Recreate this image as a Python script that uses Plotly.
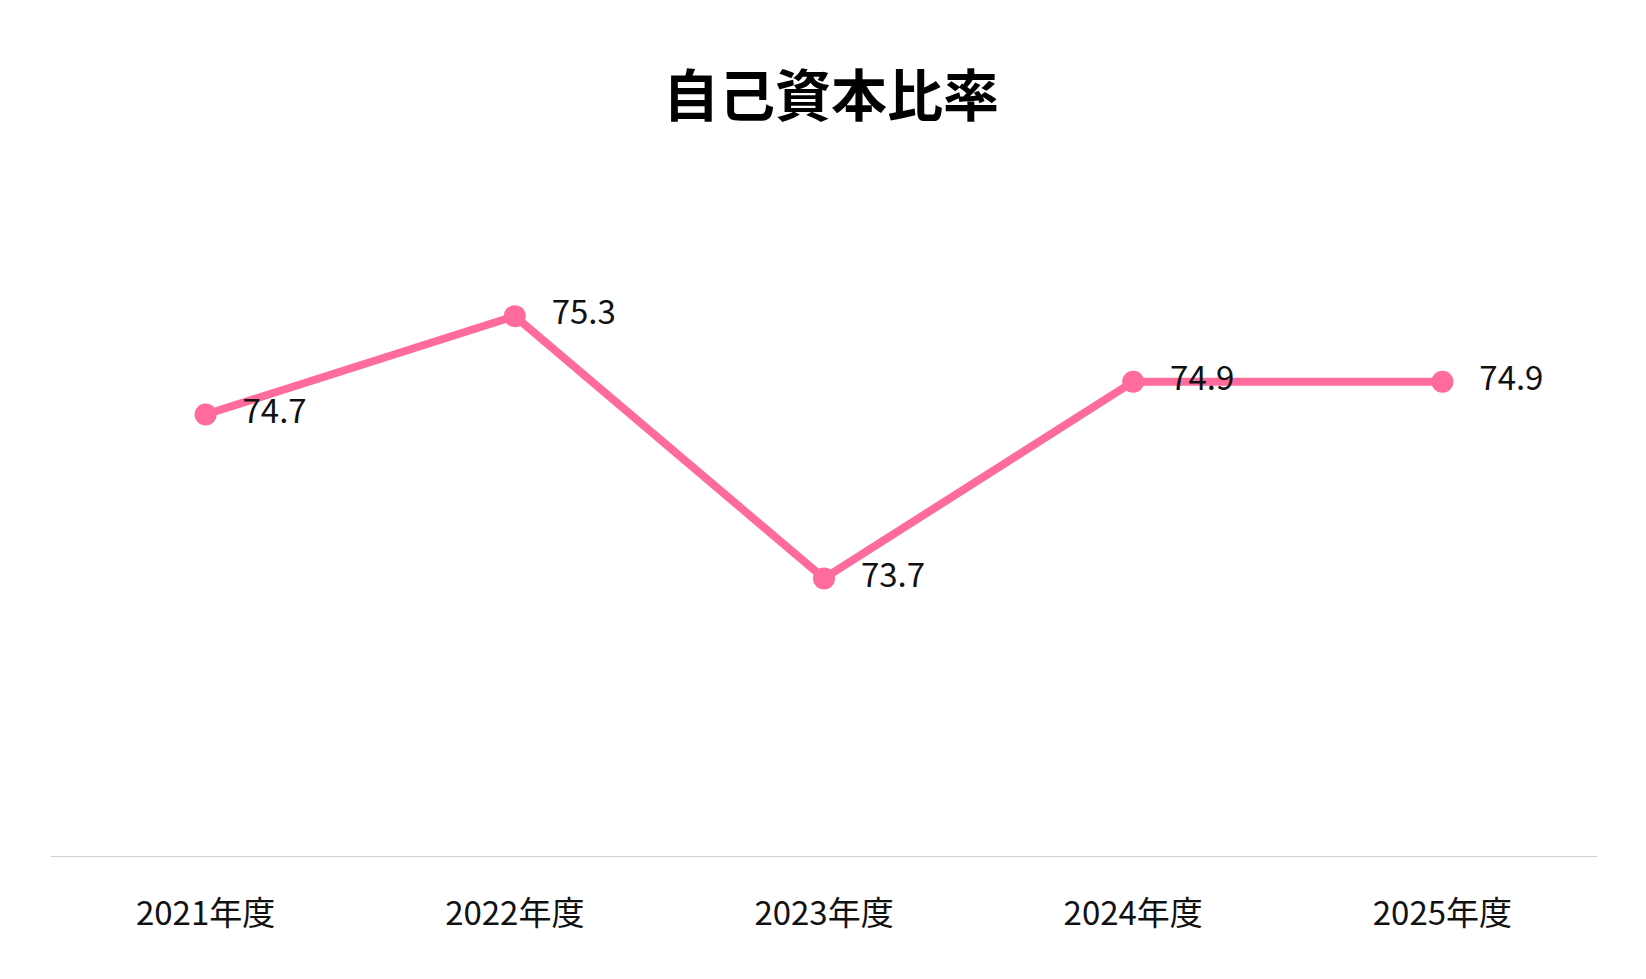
import plotly.graph_objects as go

categories = ["2021年度", "2022年度", "2023年度", "2024年度", "2025年度"]
values = [74.7, 75.3, 73.7, 74.9, 74.9]
labels = ["74.7", "75.3", "73.7", "74.9", "74.9"]

fig = go.Figure(go.Scatter(
    x=categories, y=values, mode="lines+markers+text",
    text=["   " + t for t in labels], textposition="middle right",
    textfont=dict(size=33, color="#111111", family="Noto Sans CJK JP"),
    line=dict(color="#FF6B9D", width=8),
    marker=dict(color="#FF6B9D", size=22),
    cliponaxis=False,
))
fig.update_layout(
    width=1646, height=979,
    paper_bgcolor="white", plot_bgcolor="white",
    font=dict(family="Noto Sans CJK JP", color="#111111"),
    title=dict(text="<b>自己資本比率</b>", x=0.5, xanchor="center", y=0.91, yanchor="middle",
               font=dict(size=56, color="#000000")),
    margin=dict(l=43, r=57, t=100, b=130),
    showlegend=False,
    xaxis=dict(range=[-0.5, 4.5], showgrid=False, zeroline=False,
               showline=False, ticks="", tickfont=dict(size=33), ticklabelstandoff=34),
    yaxis=dict(range=[72, 76.57], visible=False),
    shapes=[dict(type="line", xref="paper", yref="y", x0=0, x1=1, y0=72, y1=72,
                 line=dict(color="#D0D0D0", width=2))],
)
fig.write_html("out.html")
